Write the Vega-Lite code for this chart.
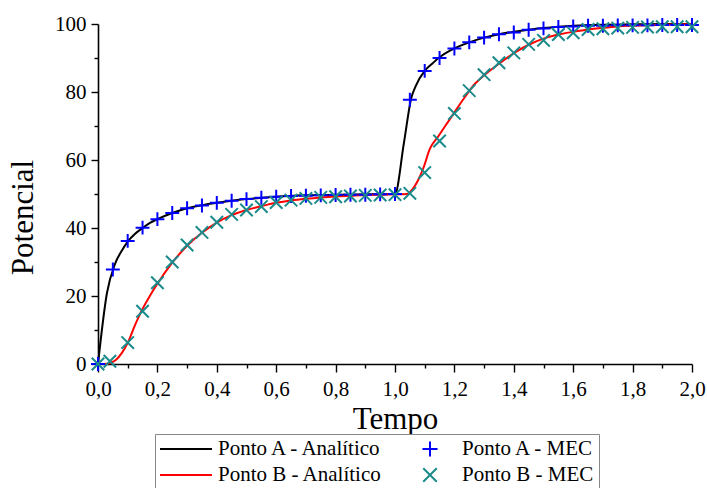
{
  "$schema": "https://vega.github.io/schema/vega-lite/v6.json",
  "autosize": "none",
  "width": 594,
  "height": 340,
  "padding": {"left": 98, "top": 24, "right": 15, "bottom": 124},
  "background": "white",
  "config": {
    "view": {"stroke": null},
    "font": "Liberation Serif",
    "axis": {"grid": false, "domainColor": "black", "domainWidth": 1.6, "tickColor": "black", "tickWidth": 1.4,
             "labelFont": "Liberation Serif", "labelFontSize": 21, "labelColor": "black",
             "titleFont": "Liberation Serif", "titleFontSize": 31, "titleFontWeight": "normal", "titleColor": "black"},
    "legend": {"labelFont": "Liberation Serif", "labelFontSize": 21, "labelColor": "black", "labelLimit": 400}
  },
  "data": {"values": [
    {"t":0,"v":0,"serie":"Ponto A - Analítico","tipo":"Analítico"},
    {"t":0.03,"v":20.8,"serie":"Ponto A - Analítico","tipo":"Analítico"},
    {"t":0.058,"v":29.6,"serie":"Ponto A - Analítico","tipo":"Analítico"},
    {"t":0.08,"v":33.3,"serie":"Ponto A - Analítico","tipo":"Analítico"},
    {"t":0.1,"v":36,"serie":"Ponto A - Analítico","tipo":"Analítico"},
    {"t":0.125,"v":38.3,"serie":"Ponto A - Analítico","tipo":"Analítico"},
    {"t":0.15,"v":40,"serie":"Ponto A - Analítico","tipo":"Analítico"},
    {"t":0.175,"v":41.5,"serie":"Ponto A - Analítico","tipo":"Analítico"},
    {"t":0.2,"v":42.6,"serie":"Ponto A - Analítico","tipo":"Analítico"},
    {"t":0.25,"v":44.4,"serie":"Ponto A - Analítico","tipo":"Analítico"},
    {"t":0.3,"v":45.8,"serie":"Ponto A - Analítico","tipo":"Analítico"},
    {"t":0.35,"v":46.7,"serie":"Ponto A - Analítico","tipo":"Analítico"},
    {"t":0.4,"v":47.4,"serie":"Ponto A - Analítico","tipo":"Analítico"},
    {"t":0.45,"v":48,"serie":"Ponto A - Analítico","tipo":"Analítico"},
    {"t":0.5,"v":48.5,"serie":"Ponto A - Analítico","tipo":"Analítico"},
    {"t":0.6,"v":49.2,"serie":"Ponto A - Analítico","tipo":"Analítico"},
    {"t":0.7,"v":49.6,"serie":"Ponto A - Analítico","tipo":"Analítico"},
    {"t":0.8,"v":49.8,"serie":"Ponto A - Analítico","tipo":"Analítico"},
    {"t":0.9,"v":49.9,"serie":"Ponto A - Analítico","tipo":"Analítico"},
    {"t":1.0,"v":50,"serie":"Ponto A - Analítico","tipo":"Analítico"},
    {"t":1.03,"v":65,"serie":"Ponto A - Analítico","tipo":"Analítico"},
    {"t":1.055,"v":78.3,"serie":"Ponto A - Analítico","tipo":"Analítico"},
    {"t":1.07,"v":81.8,"serie":"Ponto A - Analítico","tipo":"Analítico"},
    {"t":1.1,"v":86.2,"serie":"Ponto A - Analítico","tipo":"Analítico"},
    {"t":1.125,"v":88.3,"serie":"Ponto A - Analítico","tipo":"Analítico"},
    {"t":1.15,"v":90.2,"serie":"Ponto A - Analítico","tipo":"Analítico"},
    {"t":1.2,"v":92.8,"serie":"Ponto A - Analítico","tipo":"Analítico"},
    {"t":1.25,"v":94.6,"serie":"Ponto A - Analítico","tipo":"Analítico"},
    {"t":1.3,"v":96,"serie":"Ponto A - Analítico","tipo":"Analítico"},
    {"t":1.35,"v":97,"serie":"Ponto A - Analítico","tipo":"Analítico"},
    {"t":1.4,"v":97.7,"serie":"Ponto A - Analítico","tipo":"Analítico"},
    {"t":1.45,"v":98.3,"serie":"Ponto A - Analítico","tipo":"Analítico"},
    {"t":1.5,"v":98.8,"serie":"Ponto A - Analítico","tipo":"Analítico"},
    {"t":1.55,"v":99.2,"serie":"Ponto A - Analítico","tipo":"Analítico"},
    {"t":1.6,"v":99.5,"serie":"Ponto A - Analítico","tipo":"Analítico"},
    {"t":1.7,"v":99.8,"serie":"Ponto A - Analítico","tipo":"Analítico"},
    {"t":1.8,"v":99.9,"serie":"Ponto A - Analítico","tipo":"Analítico"},
    {"t":1.9,"v":100,"serie":"Ponto A - Analítico","tipo":"Analítico"},
    {"t":2.0,"v":100,"serie":"Ponto A - Analítico","tipo":"Analítico"},

    {"t":0,"v":0,"serie":"Ponto B - Analítico","tipo":"Analítico"},
    {"t":0.02,"v":0,"serie":"Ponto B - Analítico","tipo":"Analítico"},
    {"t":0.04,"v":0.3,"serie":"Ponto B - Analítico","tipo":"Analítico"},
    {"t":0.06,"v":1.2,"serie":"Ponto B - Analítico","tipo":"Analítico"},
    {"t":0.08,"v":3.2,"serie":"Ponto B - Analítico","tipo":"Analítico"},
    {"t":0.1,"v":6.2,"serie":"Ponto B - Analítico","tipo":"Analítico"},
    {"t":0.125,"v":11.5,"serie":"Ponto B - Analítico","tipo":"Analítico"},
    {"t":0.15,"v":16.2,"serie":"Ponto B - Analítico","tipo":"Analítico"},
    {"t":0.175,"v":20.1,"serie":"Ponto B - Analítico","tipo":"Analítico"},
    {"t":0.2,"v":23.6,"serie":"Ponto B - Analítico","tipo":"Analítico"},
    {"t":0.25,"v":29.8,"serie":"Ponto B - Analítico","tipo":"Analítico"},
    {"t":0.3,"v":34.8,"serie":"Ponto B - Analítico","tipo":"Analítico"},
    {"t":0.35,"v":38.6,"serie":"Ponto B - Analítico","tipo":"Analítico"},
    {"t":0.4,"v":41.6,"serie":"Ponto B - Analítico","tipo":"Analítico"},
    {"t":0.45,"v":43.8,"serie":"Ponto B - Analítico","tipo":"Analítico"},
    {"t":0.5,"v":45.3,"serie":"Ponto B - Analítico","tipo":"Analítico"},
    {"t":0.55,"v":46.4,"serie":"Ponto B - Analítico","tipo":"Analítico"},
    {"t":0.6,"v":47.4,"serie":"Ponto B - Analítico","tipo":"Analítico"},
    {"t":0.65,"v":48.1,"serie":"Ponto B - Analítico","tipo":"Analítico"},
    {"t":0.7,"v":48.6,"serie":"Ponto B - Analítico","tipo":"Analítico"},
    {"t":0.75,"v":49,"serie":"Ponto B - Analítico","tipo":"Analítico"},
    {"t":0.8,"v":49.3,"serie":"Ponto B - Analítico","tipo":"Analítico"},
    {"t":0.85,"v":49.5,"serie":"Ponto B - Analítico","tipo":"Analítico"},
    {"t":0.9,"v":49.7,"serie":"Ponto B - Analítico","tipo":"Analítico"},
    {"t":0.95,"v":49.8,"serie":"Ponto B - Analítico","tipo":"Analítico"},
    {"t":1.0,"v":49.9,"serie":"Ponto B - Analítico","tipo":"Analítico"},
    {"t":1.04,"v":50,"serie":"Ponto B - Analítico","tipo":"Analítico"},
    {"t":1.06,"v":51.5,"serie":"Ponto B - Analítico","tipo":"Analítico"},
    {"t":1.075,"v":53.6,"serie":"Ponto B - Analítico","tipo":"Analítico"},
    {"t":1.095,"v":57.5,"serie":"Ponto B - Analítico","tipo":"Analítico"},
    {"t":1.118,"v":63.4,"serie":"Ponto B - Analítico","tipo":"Analítico"},
    {"t":1.146,"v":67,"serie":"Ponto B - Analítico","tipo":"Analítico"},
    {"t":1.19,"v":72.7,"serie":"Ponto B - Analítico","tipo":"Analítico"},
    {"t":1.236,"v":78.6,"serie":"Ponto B - Analítico","tipo":"Analítico"},
    {"t":1.27,"v":82.5,"serie":"Ponto B - Analítico","tipo":"Analítico"},
    {"t":1.3,"v":84.9,"serie":"Ponto B - Analítico","tipo":"Analítico"},
    {"t":1.35,"v":88.3,"serie":"Ponto B - Analítico","tipo":"Analítico"},
    {"t":1.4,"v":91.4,"serie":"Ponto B - Analítico","tipo":"Analítico"},
    {"t":1.45,"v":93.9,"serie":"Ponto B - Analítico","tipo":"Analítico"},
    {"t":1.5,"v":95.7,"serie":"Ponto B - Analítico","tipo":"Analítico"},
    {"t":1.55,"v":96.9,"serie":"Ponto B - Analítico","tipo":"Analítico"},
    {"t":1.6,"v":97.7,"serie":"Ponto B - Analítico","tipo":"Analítico"},
    {"t":1.65,"v":98.4,"serie":"Ponto B - Analítico","tipo":"Analítico"},
    {"t":1.7,"v":98.9,"serie":"Ponto B - Analítico","tipo":"Analítico"},
    {"t":1.75,"v":99.3,"serie":"Ponto B - Analítico","tipo":"Analítico"},
    {"t":1.8,"v":99.5,"serie":"Ponto B - Analítico","tipo":"Analítico"},
    {"t":1.9,"v":99.8,"serie":"Ponto B - Analítico","tipo":"Analítico"},
    {"t":2.0,"v":99.9,"serie":"Ponto B - Analítico","tipo":"Analítico"},

    {"t":0,"v":0,"serie":"Ponto A - MEC","tipo":"MEC"},
    {"t":0.05,"v":27.8,"serie":"Ponto A - MEC","tipo":"MEC"},
    {"t":0.1,"v":36.2,"serie":"Ponto A - MEC","tipo":"MEC"},
    {"t":0.15,"v":40.1,"serie":"Ponto A - MEC","tipo":"MEC"},
    {"t":0.2,"v":42.6,"serie":"Ponto A - MEC","tipo":"MEC"},
    {"t":0.25,"v":44.4,"serie":"Ponto A - MEC","tipo":"MEC"},
    {"t":0.3,"v":45.8,"serie":"Ponto A - MEC","tipo":"MEC"},
    {"t":0.35,"v":46.6,"serie":"Ponto A - MEC","tipo":"MEC"},
    {"t":0.4,"v":47.4,"serie":"Ponto A - MEC","tipo":"MEC"},
    {"t":0.45,"v":48,"serie":"Ponto A - MEC","tipo":"MEC"},
    {"t":0.5,"v":48.5,"serie":"Ponto A - MEC","tipo":"MEC"},
    {"t":0.55,"v":48.9,"serie":"Ponto A - MEC","tipo":"MEC"},
    {"t":0.6,"v":49.2,"serie":"Ponto A - MEC","tipo":"MEC"},
    {"t":0.65,"v":49.4,"serie":"Ponto A - MEC","tipo":"MEC"},
    {"t":0.7,"v":49.5,"serie":"Ponto A - MEC","tipo":"MEC"},
    {"t":0.75,"v":49.6,"serie":"Ponto A - MEC","tipo":"MEC"},
    {"t":0.8,"v":49.7,"serie":"Ponto A - MEC","tipo":"MEC"},
    {"t":0.85,"v":49.8,"serie":"Ponto A - MEC","tipo":"MEC"},
    {"t":0.9,"v":49.8,"serie":"Ponto A - MEC","tipo":"MEC"},
    {"t":0.95,"v":49.9,"serie":"Ponto A - MEC","tipo":"MEC"},
    {"t":1.0,"v":50,"serie":"Ponto A - MEC","tipo":"MEC"},
    {"t":1.05,"v":77.7,"serie":"Ponto A - MEC","tipo":"MEC"},
    {"t":1.1,"v":86.2,"serie":"Ponto A - MEC","tipo":"MEC"},
    {"t":1.15,"v":90,"serie":"Ponto A - MEC","tipo":"MEC"},
    {"t":1.2,"v":92.8,"serie":"Ponto A - MEC","tipo":"MEC"},
    {"t":1.25,"v":94.6,"serie":"Ponto A - MEC","tipo":"MEC"},
    {"t":1.3,"v":96,"serie":"Ponto A - MEC","tipo":"MEC"},
    {"t":1.35,"v":97,"serie":"Ponto A - MEC","tipo":"MEC"},
    {"t":1.4,"v":97.5,"serie":"Ponto A - MEC","tipo":"MEC"},
    {"t":1.45,"v":98.3,"serie":"Ponto A - MEC","tipo":"MEC"},
    {"t":1.5,"v":98.7,"serie":"Ponto A - MEC","tipo":"MEC"},
    {"t":1.55,"v":99.1,"serie":"Ponto A - MEC","tipo":"MEC"},
    {"t":1.6,"v":99.3,"serie":"Ponto A - MEC","tipo":"MEC"},
    {"t":1.65,"v":99.5,"serie":"Ponto A - MEC","tipo":"MEC"},
    {"t":1.7,"v":99.5,"serie":"Ponto A - MEC","tipo":"MEC"},
    {"t":1.75,"v":99.6,"serie":"Ponto A - MEC","tipo":"MEC"},
    {"t":1.8,"v":99.6,"serie":"Ponto A - MEC","tipo":"MEC"},
    {"t":1.85,"v":99.6,"serie":"Ponto A - MEC","tipo":"MEC"},
    {"t":1.9,"v":99.7,"serie":"Ponto A - MEC","tipo":"MEC"},
    {"t":1.95,"v":99.7,"serie":"Ponto A - MEC","tipo":"MEC"},
    {"t":2.0,"v":99.7,"serie":"Ponto A - MEC","tipo":"MEC"},

    {"t":0,"v":0,"serie":"Ponto B - MEC","tipo":"MEC"},
    {"t":0.04,"v":0.8,"serie":"Ponto B - MEC","tipo":"MEC"},
    {"t":0.1,"v":6.3,"serie":"Ponto B - MEC","tipo":"MEC"},
    {"t":0.15,"v":15.5,"serie":"Ponto B - MEC","tipo":"MEC"},
    {"t":0.2,"v":23.9,"serie":"Ponto B - MEC","tipo":"MEC"},
    {"t":0.25,"v":30,"serie":"Ponto B - MEC","tipo":"MEC"},
    {"t":0.3,"v":35,"serie":"Ponto B - MEC","tipo":"MEC"},
    {"t":0.35,"v":38.7,"serie":"Ponto B - MEC","tipo":"MEC"},
    {"t":0.4,"v":41.7,"serie":"Ponto B - MEC","tipo":"MEC"},
    {"t":0.45,"v":44,"serie":"Ponto B - MEC","tipo":"MEC"},
    {"t":0.5,"v":45.3,"serie":"Ponto B - MEC","tipo":"MEC"},
    {"t":0.55,"v":46.3,"serie":"Ponto B - MEC","tipo":"MEC"},
    {"t":0.6,"v":47.5,"serie":"Ponto B - MEC","tipo":"MEC"},
    {"t":0.65,"v":48.2,"serie":"Ponto B - MEC","tipo":"MEC"},
    {"t":0.7,"v":48.7,"serie":"Ponto B - MEC","tipo":"MEC"},
    {"t":0.75,"v":49,"serie":"Ponto B - MEC","tipo":"MEC"},
    {"t":0.8,"v":49.2,"serie":"Ponto B - MEC","tipo":"MEC"},
    {"t":0.85,"v":49.4,"serie":"Ponto B - MEC","tipo":"MEC"},
    {"t":0.9,"v":49.6,"serie":"Ponto B - MEC","tipo":"MEC"},
    {"t":0.95,"v":49.7,"serie":"Ponto B - MEC","tipo":"MEC"},
    {"t":1.0,"v":49.8,"serie":"Ponto B - MEC","tipo":"MEC"},
    {"t":1.05,"v":50.2,"serie":"Ponto B - MEC","tipo":"MEC"},
    {"t":1.1,"v":56.3,"serie":"Ponto B - MEC","tipo":"MEC"},
    {"t":1.15,"v":65.6,"serie":"Ponto B - MEC","tipo":"MEC"},
    {"t":1.2,"v":73.7,"serie":"Ponto B - MEC","tipo":"MEC"},
    {"t":1.25,"v":80.4,"serie":"Ponto B - MEC","tipo":"MEC"},
    {"t":1.3,"v":85.1,"serie":"Ponto B - MEC","tipo":"MEC"},
    {"t":1.35,"v":88.6,"serie":"Ponto B - MEC","tipo":"MEC"},
    {"t":1.4,"v":91.5,"serie":"Ponto B - MEC","tipo":"MEC"},
    {"t":1.45,"v":94,"serie":"Ponto B - MEC","tipo":"MEC"},
    {"t":1.5,"v":95.2,"serie":"Ponto B - MEC","tipo":"MEC"},
    {"t":1.55,"v":96.9,"serie":"Ponto B - MEC","tipo":"MEC"},
    {"t":1.6,"v":97.4,"serie":"Ponto B - MEC","tipo":"MEC"},
    {"t":1.65,"v":98.4,"serie":"Ponto B - MEC","tipo":"MEC"},
    {"t":1.7,"v":98.6,"serie":"Ponto B - MEC","tipo":"MEC"},
    {"t":1.75,"v":98.8,"serie":"Ponto B - MEC","tipo":"MEC"},
    {"t":1.8,"v":99,"serie":"Ponto B - MEC","tipo":"MEC"},
    {"t":1.85,"v":99.1,"serie":"Ponto B - MEC","tipo":"MEC"},
    {"t":1.9,"v":99.2,"serie":"Ponto B - MEC","tipo":"MEC"},
    {"t":1.95,"v":99.2,"serie":"Ponto B - MEC","tipo":"MEC"},
    {"t":2.0,"v":99.2,"serie":"Ponto B - MEC","tipo":"MEC"}
  ]},
  "encoding": {
    "x": {"field": "t", "type": "quantitative",
          "scale": {"domain": [0, 2], "nice": false, "zero": false},
          "axis": {"title": "Tempo", "values": [0,0.1,0.2,0.3,0.4,0.5,0.6,0.7,0.8,0.9,1,1.1,1.2,1.3,1.4,1.5,1.6,1.7,1.8,1.9,2],
                   "labelExpr": "abs(datum.value*5 - round(datum.value*5)) < 0.001 ? replace(format(datum.value, '.1f'), '.', ',') : ''",
                   "tickSize": {"condition": {"test": "abs(datum.value*5 - round(datum.value*5)) < 0.001", "value": 8}, "value": 4},
                   "labelPadding": 6, "labelFlush": false, "labelOverlap": false,
                   "titleBaseline": "alphabetic", "titleY": 64}},
    "y": {"field": "v", "type": "quantitative",
          "scale": {"domain": [0, 100], "nice": false},
          "axis": {"title": "Potencial", "values": [0,10,20,30,40,50,60,70,80,90,100],
                   "labelExpr": "datum.value % 20 === 0 ? format(datum.value, 'd') : ''",
                   "tickSize": {"condition": {"test": "datum.value % 20 === 0", "value": 7}, "value": 4},
                   "labelPadding": 5, "labelFlush": false, "labelOverlap": false,
                   "titleBaseline": "alphabetic", "titleAngle": -90, "titleAlign": "center", "titleX": -66, "titleY": 193}},
    "color": {"field": "serie", "type": "nominal",
              "scale": {"domain": ["Ponto A - Analítico", "Ponto B - Analítico", "Ponto A - MEC", "Ponto B - MEC"],
                        "range": ["#000000", "#ff0000", "#0000ff", "#1a8a8a"]},
              "legend": {"title": null, "orient": "none", "legendX": 57, "legendY": 410, "columns": 2, "direction": "vertical",
                         "padding": 4, "strokeColor": "#888888", "fillColor": "white",
                         "labelFont": "Liberation Serif", "labelFontSize": 21, "labelColor": "black", "labelLimit": 400,
                         "labelOffset": 5, "symbolSize": 2704, "symbolStrokeWidth": 2, "clipHeight": 22,
                         "rowPadding": 4, "columnPadding": 19}}
  },
  "layer": [
    {
      "transform": [{"filter": "datum.tipo === 'Analítico'"}],
      "mark": {"type": "line", "strokeWidth": 2, "interpolate": "monotone"},
      "encoding": {"detail": {"field": "serie"}}
    },
    {
      "transform": [{"filter": "datum.tipo === 'MEC'"}],
      "mark": {"type": "point", "filled": false, "size": 2300, "strokeWidth": 2, "opacity": 1},
      "encoding": {
        "shape": {"field": "serie", "type": "nominal",
                  "scale": {"domain": ["Ponto A - Analítico", "Ponto B - Analítico", "Ponto A - MEC", "Ponto B - MEC"],
                            "range": ["M-1,0L1,0", "M-1,0L1,0", "M-0.29,0L0.29,0M0,-0.29L0,0.29", "M-0.26,-0.26L0.26,0.26M-0.26,0.26L0.26,-0.26"]}}
      }
    }
  ]
}
